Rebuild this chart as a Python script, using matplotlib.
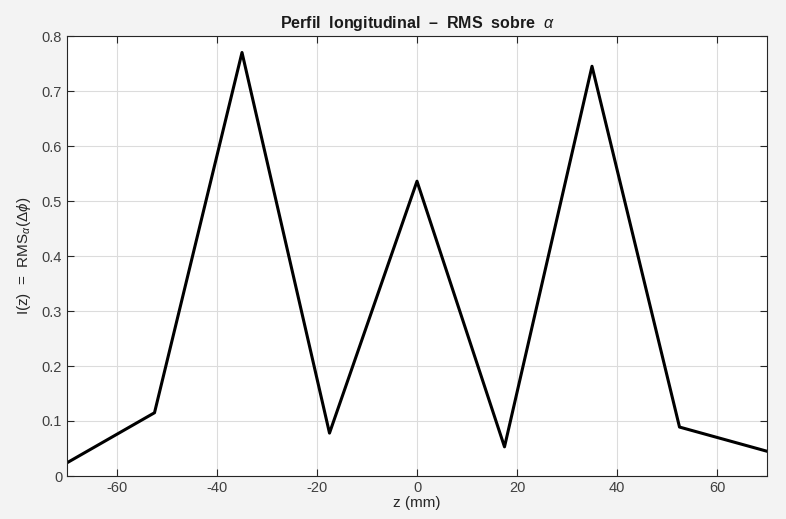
import numpy as np
import matplotlib
matplotlib.use("Agg")
import matplotlib.pyplot as plt

plt.rcParams['font.family'] = ['Liberation Sans', 'DejaVu Sans']
plt.rcParams['mathtext.fontset'] = 'custom'
plt.rcParams['mathtext.it'] = 'Liberation Sans:italic'
plt.rcParams['mathtext.rm'] = 'Liberation Sans'
plt.rcParams['axes.unicode_minus'] = False

# longitudinal profile samples
z_mm = [-70, -52.5, -35, -17.5, 0, 17.5, 35, 52.5, 70]
I_z = [0.024, 0.115, 0.770, 0.078, 0.536, 0.053, 0.745, 0.089, 0.045]
x_ticks = [-60, -40, -20, 0, 20, 40, 60]
y_ticks = [0, 0.1, 0.2, 0.3, 0.4, 0.5, 0.6, 0.7, 0.8]

fig = plt.figure(figsize=(7.86, 5.19), dpi=100, facecolor='#f3f3f3')
ax = fig.add_axes([67 / 786, 1 - 476 / 519, 700 / 786, 440 / 519])
ax.set_facecolor('white')

ax.plot(z_mm, I_z, color='black', linewidth=2.2)

ax.set_xlim(-70, 70)
ax.set_ylim(0, 0.8)
ax.set_xticks(x_ticks)
ax.set_yticks(y_ticks)
ax.set_yticklabels(['0', '0.1', '0.2', '0.3', '0.4', '0.5', '0.6', '0.7', '0.8'])
ax.grid(True, color='#dcdcdc', linewidth=0.8)
ax.set_axisbelow(True)

axis_col = '#262626'
for s in ax.spines.values():
    s.set_color(axis_col)
    s.set_linewidth(0.8)
ax.tick_params(direction='in', top=True, right=True, length=5, width=0.8,
               colors=axis_col, labelcolor='#404040', labelsize=10.5)

ax.set_xlabel('z (mm)', fontsize=11, color='#262626', labelpad=1)
ax.set_ylabel('I(z)  =  RMS$_{\\alpha}$($\\Delta\\phi$)', fontsize=11, color='#262626', labelpad=6)
ax.set_title('Perfil  longitudinal  –  RMS  sobre  $\\alpha$', fontsize=11.5,
             fontweight='bold', color='#1a1a1a', pad=6)

fig.savefig('out.png', dpi=100, facecolor=fig.get_facecolor())
